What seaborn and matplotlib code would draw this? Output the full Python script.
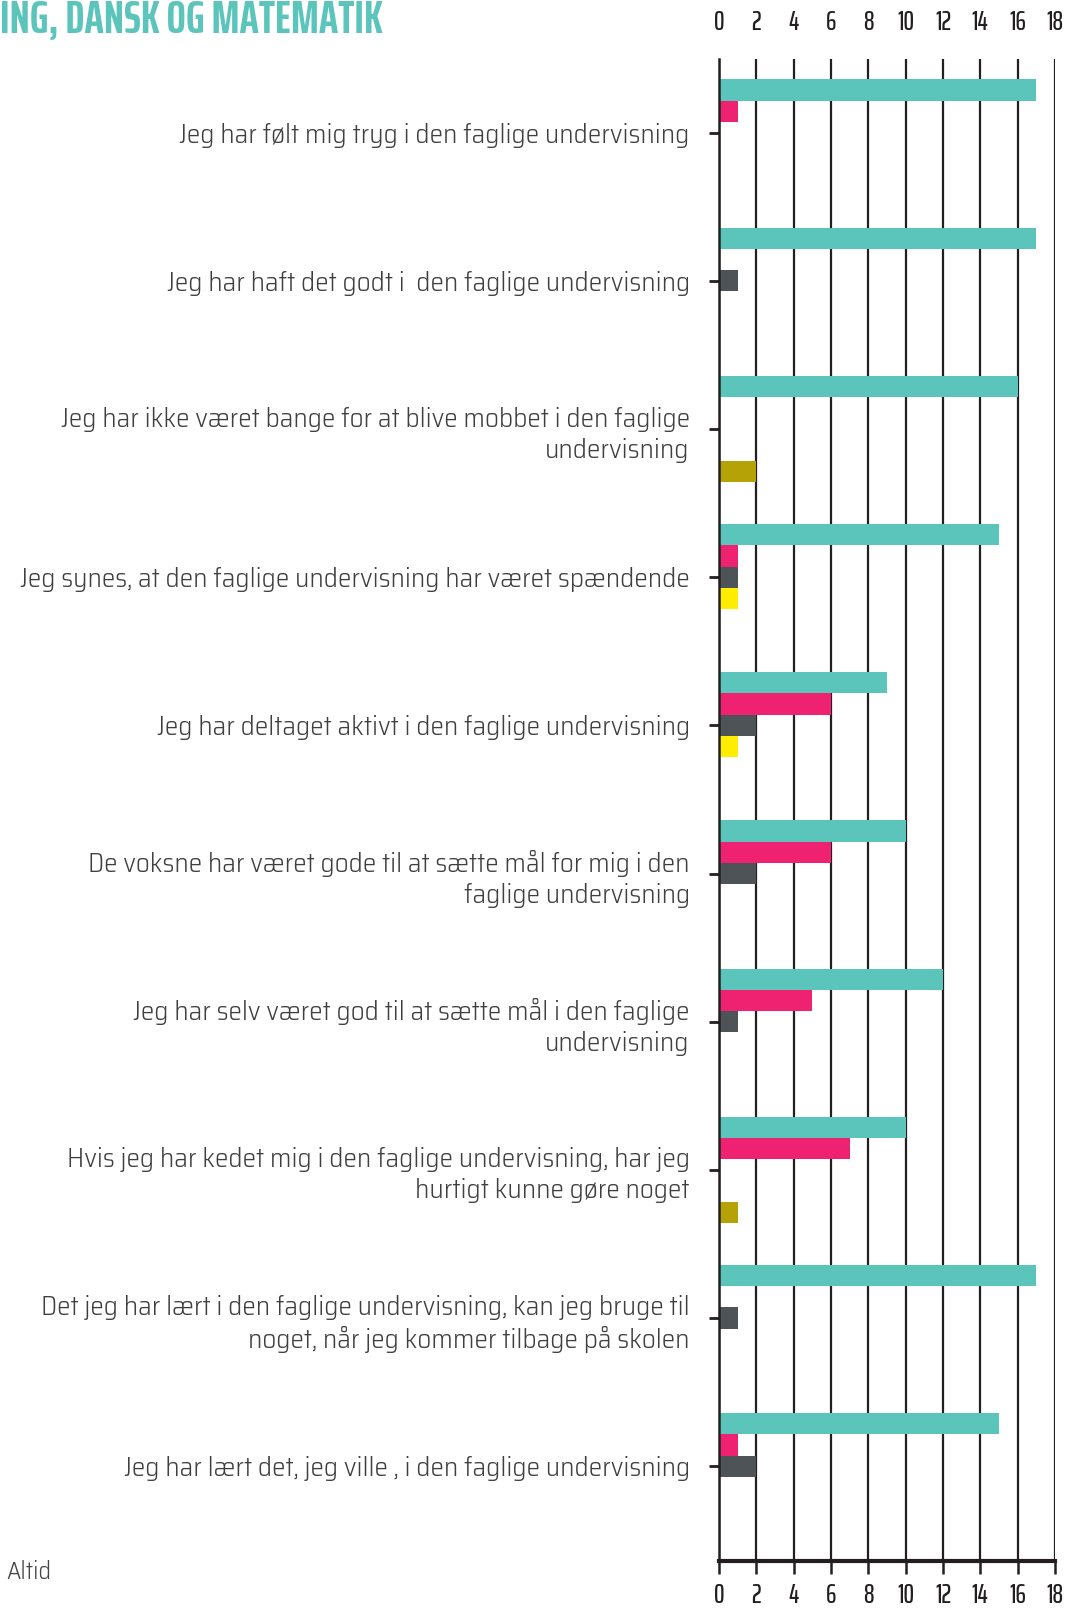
import matplotlib
matplotlib.use("Agg")
import matplotlib.pyplot as plt
import seaborn as sns
import pandas as pd

categories = [
    "Jeg har følt mig tryg i den faglige undervisning",
    "Jeg har haft det godt i  den faglige undervisning",
    "Jeg har ikke været bange for at blive mobbet i den faglige\nundervisning",
    "Jeg synes, at den faglige undervisning har været spændende",
    "Jeg har deltaget aktivt i den faglige undervisning",
    "De voksne har været gode til at sætte mål for mig i den\nfaglige undervisning",
    "Jeg har selv været god til at sætte mål i den faglige\nundervisning",
    "Hvis jeg har kedet mig i den faglige undervisning, har jeg\nhurtigt kunne gøre noget",
    "Det jeg har lært i den faglige undervisning, kan jeg bruge til\nnoget, når jeg kommer tilbage på skolen",
    "Jeg har lært det, jeg ville , i den faglige undervisning",
]
series_names = ["Altid", "Ofte", "Nogle gange", "Sjældent", "Aldrig"]
altid       = [17, 17, 16, 15, 9, 10, 12, 10, 17, 15]
ofte        = [1, 0, 0, 1, 6, 6, 5, 7, 0, 1]
nogle_gange = [0, 1, 0, 1, 2, 2, 1, 0, 1, 2]
sjaeldent   = [0, 0, 0, 1, 1, 0, 0, 0, 0, 0]
aldrig      = [0, 0, 2, 0, 0, 0, 0, 1, 0, 0]
x_ticks = [0, 2, 4, 6, 8, 10, 12, 14, 16, 18]

colors = ["#5BC5BB", "#EE2270", "#4D5357", "#FFED00", "#B5A206"]

rows = []
for name, vals in zip(series_names, [altid, ofte, nogle_gange, sjaeldent, aldrig]):
    for c, v in zip(categories, vals):
        rows.append({"category": c, "series": name, "value": v})
df = pd.DataFrame(rows)

sns.set_theme(style="white")
plt.rcParams["font.family"] = ["Saira SemiCondensed", "DejaVu Sans"]

LABEL_FONT = ["Saira SemiCondensed", "DejaVu Sans"]
NUM_FONT = ["Saira ExtraCondensed", "DejaVu Sans"]

fig = plt.figure(figsize=(10.68, 16.09), dpi=100)
ax = fig.add_axes([0.6732, 0.0298, 0.3146, 0.9338])

sns.barplot(data=df, y="category", x="value", hue="series", hue_order=series_names,
            order=categories, palette=colors, orient="h", width=0.718, gap=0,
            saturation=1, legend=False, ax=ax, linewidth=0, errorbar=None)

ax.set_xlim(0, 18)
ax.set_ylim(9.64, -0.5)
ax.set_xticks(x_ticks)
ax.set_xlabel("")
ax.set_ylabel("")
ax.set_axisbelow(True)
ax.grid(axis="x", color="#231f20", linewidth=1.6)
ax.grid(axis="y", visible=False)

for s in ["top", "right"]:
    ax.spines[s].set_visible(False)
ax.spines["left"].set_color("#231f20")
ax.spines["left"].set_linewidth(1.8)
ax.spines["bottom"].set_color("#231f20")
ax.spines["bottom"].set_linewidth(3)

ax.tick_params(axis="x", bottom=True, length=9, width=1.8, color="#231f20",
               labelcolor="#231f20", pad=7)
ax.tick_params(axis="y", left=True, length=7, width=2, color="#231f20",
               labelcolor="#3f3f3f", pad=14)
for lab in ax.get_yticklabels():
    lab.set_family(LABEL_FONT)
    lab.set_fontweight(300)
    lab.set_fontsize(19.6)
    lab.set_linespacing(1.3)
for lab in ax.get_xticklabels():
    lab.set_family(NUM_FONT)
    lab.set_fontsize(19)
    lab.set_fontweight(500)

sec = ax.secondary_xaxis("top")
sec.set_xticks(x_ticks)
sec.tick_params(length=0, pad=17, labelcolor="#231f20")
for lab in sec.get_xticklabels():
    lab.set_family(NUM_FONT)
    lab.set_fontsize(19)
    lab.set_fontweight(500)
sec.spines["top"].set_visible(False)

fig.text(0.0, 0.987, "ING, DANSK OG MATEMATIK", color="#5BC5BB", fontsize=33,
         fontweight=700, family=NUM_FONT, ha="left", va="center")
fig.text(0.006, 0.0228, "Altid", color="#454545", fontsize=17.5, fontweight=300,
         family=LABEL_FONT, ha="left", va="center")

fig.savefig("out.png", dpi=100)
